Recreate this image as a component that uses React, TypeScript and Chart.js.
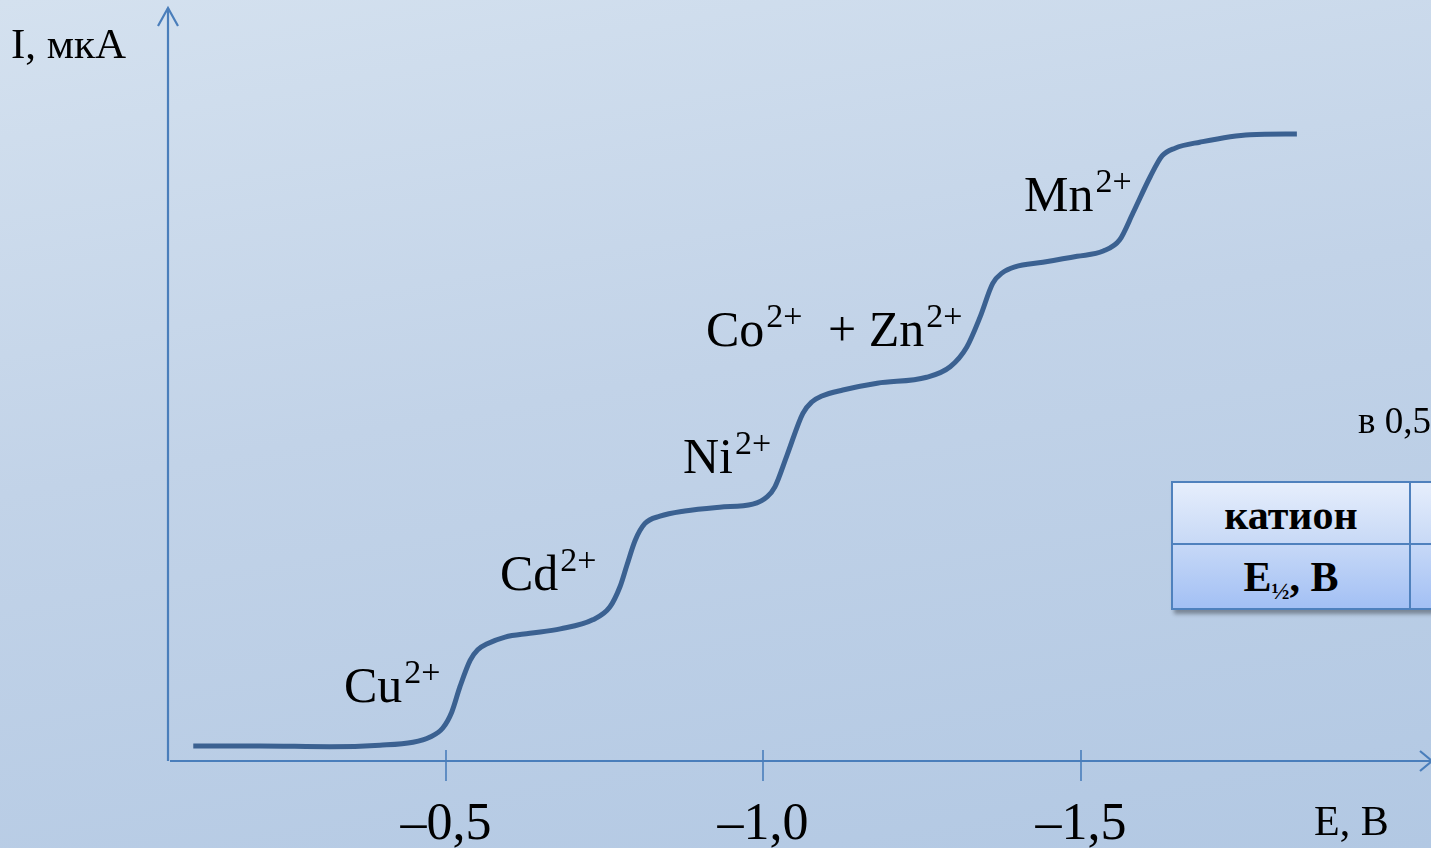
import React, { useEffect, useRef } from "react";
import { Chart, registerables } from "chart.js";

Chart.register(...registerables);

// Polarogram: potential E (V) and current I (arbitrary units, µA scale)
const potentials: number[] = [
  -0.102, -0.207, -0.317, -0.396, -0.448, -0.475, -0.495, -0.509, -0.522, -0.538,
  -0.55, -0.565, -0.593, -0.632, -0.68, -0.731, -0.758, -0.774, -0.785, -0.798,
  -0.813, -0.837, -0.876, -0.931, -0.983, -1.006, -1.018, -1.037, -1.062, -1.076,
  -1.092, -1.125, -1.179, -1.257, -1.294, -1.32, -1.341, -1.361, -1.376, -1.396,
  -1.44, -1.494, -1.535, -1.561, -1.582, -1.609, -1.628, -1.648, -1.687, -1.766,
  -1.84,
];
const currents: number[] = [
  2.0, 2.0, 1.9, 2.1, 2.5, 3.2, 4.4, 6.5, 9.9, 13.4,
  14.8, 15.6, 16.5, 17.0, 17.6, 18.8, 20.5, 23.2, 26.1, 29.4,
  31.6, 32.6, 33.3, 33.8, 34.2, 35.2, 36.5, 40.7, 46.3, 47.8,
  48.6, 49.4, 50.3, 51.1, 52.5, 55.1, 59.1, 63.6, 65.0, 65.8,
  66.4, 67.2, 67.9, 69.4, 73.0, 77.8, 80.6, 81.6, 82.4, 83.4,
  83.5,
];
const tickValues: number[] = [-0.5, -1.0, -1.5];
const tickLabels: string[] = ["–0,5", "–1,0", "–1,5"];
const xAxisTitle = "E, В";
const yAxisTitle = "I, мкА";
const ionLabels: { base: string; sup: string; x: number; y: number }[] = [
  { base: "Cu", sup: "2+", x: 344, y: 702 },
  { base: "Cd", sup: "2+", x: 500, y: 590 },
  { base: "Ni", sup: "2+", x: 683, y: 473 },
  { base: "Co", sup: "2+", x: 706, y: 346 },
  { base: "+ Zn", sup: "2+", x: 828, y: 346 },
  { base: "Mn", sup: "2+", x: 1024, y: 211 },
];

const AXIS_COLOR = "#4a7ebb";
const SERIF = '"Liberation Serif", "Times New Roman", serif';

const decorPlugin = {
  id: "decor",
  beforeDatasetsDraw(chart: any) {
    const ctx = chart.ctx as CanvasRenderingContext2D;
    const xs = chart.scales.x;
    const area = chart.chartArea;
    const axisY = area.bottom;
    const axisX = area.left;
    ctx.save();
    ctx.strokeStyle = AXIS_COLOR;
    ctx.lineWidth = 2.2;
    ctx.lineCap = "butt";
    // y axis
    ctx.beginPath();
    ctx.moveTo(axisX, axisY);
    ctx.lineTo(axisX, 8);
    ctx.stroke();
    ctx.beginPath();
    ctx.moveTo(axisX - 10, 26);
    ctx.lineTo(axisX, 8);
    ctx.lineTo(axisX + 10, 26);
    ctx.stroke();
    // x axis
    ctx.beginPath();
    ctx.moveTo(axisX + 2, axisY);
    ctx.lineTo(1432, axisY);
    ctx.stroke();
    ctx.beginPath();
    ctx.moveTo(1420, axisY - 10);
    ctx.lineTo(1432, axisY);
    ctx.lineTo(1420, axisY + 10);
    ctx.stroke();
    // ticks
    ctx.lineWidth = 1.6;
    ctx.fillStyle = "#000";
    ctx.font = `52px ${SERIF}`;
    ctx.textAlign = "center";
    ctx.textBaseline = "alphabetic";
    tickValues.forEach((v, i) => {
      const px = Math.round(xs.getPixelForValue(v));
      ctx.beginPath();
      ctx.moveTo(px, axisY - 11);
      ctx.lineTo(px, axisY + 20);
      ctx.stroke();
      ctx.fillText(tickLabels[i], px, 839);
    });
    // axis titles
    ctx.textAlign = "left";
    ctx.font = `43px ${SERIF}`;
    ctx.fillText(yAxisTitle, 11, 58);
    ctx.font = `42px ${SERIF}`;
    ctx.fillText(xAxisTitle, 1314, 835);
    // ion labels
    ionLabels.forEach((l) => {
      ctx.font = `50px ${SERIF}`;
      ctx.fillText(l.base, l.x, l.y);
      const w = ctx.measureText(l.base).width;
      ctx.font = `34px ${SERIF}`;
      ctx.fillText(l.sup, l.x + w + 2, l.y - 19);
    });
    // side note
    ctx.font = `37px ${SERIF}`;
    ctx.fillText("в 0,5", 1358, 433);
    ctx.restore();
  },
};

export default function App() {
  const canvasRef = useRef<HTMLCanvasElement | null>(null);

  useEffect(() => {
    const canvas = canvasRef.current;
    if (!canvas) return;
    const pts = potentials.map((e, i) => ({ x: e, y: currents[i] }));
    const chart = new Chart(canvas, {
      type: "line",
      data: {
        datasets: [
          {
            data: pts,
            borderColor: "#3b6191",
            borderWidth: 5,
            pointRadius: 0,
            fill: false,
            cubicInterpolationMode: "monotone",
            borderCapStyle: "butt",
          },
        ],
      },
      options: {
        animation: false,
        responsive: false,
        devicePixelRatio: 1,
        layout: { padding: { left: 168, right: 0, top: 10, bottom: 87 } },
        scales: {
          x: { type: "linear", min: -2.0512, max: -0.0622, reverse: true, display: false },
          y: { type: "linear", min: 0, max: 100, display: false },
        },
        plugins: { legend: { display: false }, tooltip: { enabled: false } },
      },
      plugins: [decorPlugin],
    });
    return () => chart.destroy();
  }, []);

  const cellBorder = "2px solid #4f81bd";
  const tableFont: React.CSSProperties = {
    fontFamily: SERIF,
    fontWeight: "bold",
    fontSize: 42,
    color: "#000",
  };

  return (
    <div
      style={{
        position: "fixed",
        left: 0,
        top: 0,
        width: 1431,
        height: 848,
        overflow: "hidden",
        background: "linear-gradient(170deg, #d4e1ef 0%, #c2d3e8 45%, #b2c8e3 100%)",
      }}
    >
      <canvas
        ref={canvasRef}
        width={1431}
        height={848}
        style={{ position: "absolute", left: 0, top: 0, width: 1431, height: 848 }}
      />
      <div
        style={{
          position: "absolute",
          left: 1171,
          top: 481,
          width: 320,
          height: 129,
          boxShadow: "3px 4px 4px rgba(0,0,0,0.35)",
        }}
      >
        <div style={{ display: "flex", height: 64 }}>
          <div
            style={{
              ...tableFont,
              width: 240,
              border: cellBorder,
              background: "linear-gradient(180deg, #e6eefc 0%, #c8d9f6 100%)",
              display: "flex",
              alignItems: "center",
              justifyContent: "center",
              boxSizing: "border-box",
              paddingTop: 4,
            }}
          >
            катион
          </div>
          <div
            style={{
              flex: 1,
              borderTop: cellBorder,
              borderBottom: cellBorder,
              background: "linear-gradient(180deg, #e6eefc 0%, #c8d9f6 100%)",
            }}
          />
        </div>
        <div style={{ display: "flex", height: 67, marginTop: -2 }}>
          <div
            style={{
              ...tableFont,
              width: 240,
              border: cellBorder,
              background: "linear-gradient(180deg, #c6d8f7 0%, #a3c0f4 100%)",
              display: "flex",
              alignItems: "center",
              justifyContent: "center",
              boxSizing: "border-box",
              paddingTop: 4,
            }}
          >
            <span>
              E<sub style={{ fontSize: 24, verticalAlign: -8 }}>½</sub>, В
            </span>
          </div>
          <div
            style={{
              flex: 1,
              borderBottom: cellBorder,
              borderTop: cellBorder,
              background: "linear-gradient(180deg, #c6d8f7 0%, #a3c0f4 100%)",
            }}
          />
        </div>
      </div>
    </div>
  );
}
